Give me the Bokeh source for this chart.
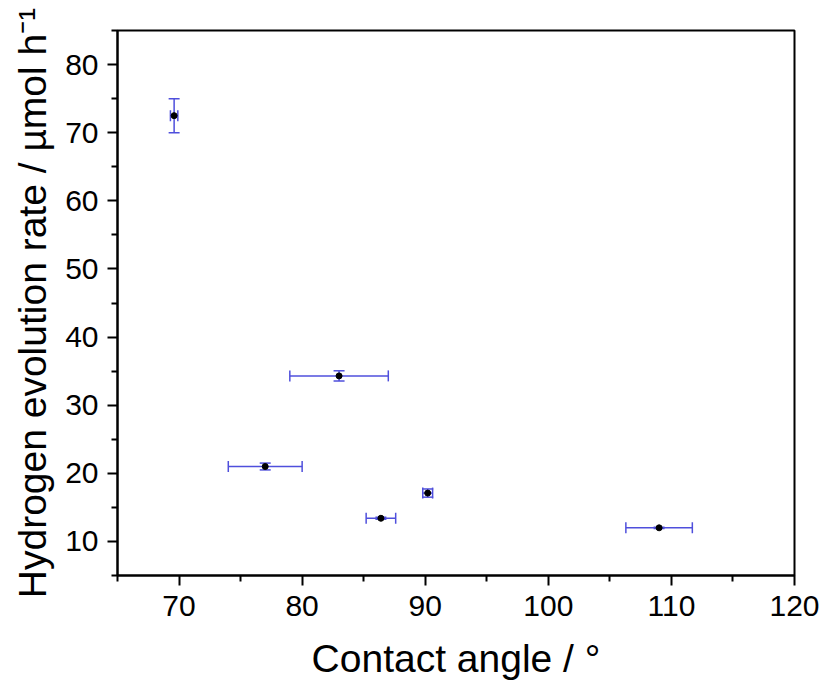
from bokeh.plotting import figure
from bokeh.models import ColumnDataSource, Whisker, TeeHead, FixedTicker, Range1d
from bokeh.embed import file_html
from bokeh.resources import INLINE

# Data
contact_angle = [69.6, 77.0, 83.0, 86.4, 90.2, 109.0]
contact_angle_err = [0.3, 3.0, 4.0, 1.2, 0.4, 2.7]
h2_rate = [72.5, 21.0, 34.3, 13.4, 17.1, 12.0]
h2_rate_err = [2.5, 0.5, 0.75, 0.15, 0.6, 0.1]

x_ticks = [70, 80, 90, 100, 110, 120]
x_minor = [65, 75, 85, 95, 105, 115]
y_ticks = [10, 20, 30, 40, 50, 60, 70, 80]
y_minor = [5, 15, 25, 35, 45, 55, 65, 75, 85]

src = ColumnDataSource(dict(
    x=contact_angle,
    y=h2_rate,
    x_lo=[a - e for a, e in zip(contact_angle, contact_angle_err)],
    x_hi=[a + e for a, e in zip(contact_angle, contact_angle_err)],
    y_lo=[a - e for a, e in zip(h2_rate, h2_rate_err)],
    y_hi=[a + e for a, e in zip(h2_rate, h2_rate_err)],
))

FONT = "Liberation Sans"
ERR = "#4f4fdc"

p = figure(width=822, height=684, output_backend="svg", toolbar_location=None,
           x_range=Range1d(65, 120), y_range=Range1d(5, 85),
           min_border_left=117, min_border_right=28, min_border_top=30, min_border_bottom=109)
p.xgrid.visible = False
p.ygrid.visible = False
p.outline_line_color = "black"
p.outline_line_width = 2
p.background_fill_color = "white"
p.border_fill_color = "white"

p.xaxis.ticker = FixedTicker(ticks=x_ticks, minor_ticks=x_minor)
p.yaxis.ticker = FixedTicker(ticks=y_ticks, minor_ticks=y_minor)

for ax in (p.xaxis, p.yaxis):
    ax.axis_line_width = 2
    ax.axis_line_color = "black"
    ax.major_tick_line_width = 2
    ax.minor_tick_line_width = 2
    ax.major_tick_out = 10
    ax.major_tick_in = 0
    ax.minor_tick_out = 6
    ax.minor_tick_in = 0
    ax.major_label_text_font = FONT
    ax.major_label_text_font_size = "30px"
    ax.major_label_text_color = "black"
    ax.axis_label_text_font = FONT
    ax.axis_label_text_font_size = "39px"
    ax.axis_label_text_font_style = "normal"
    ax.axis_label_text_color = "black"

p.xaxis.axis_label = "Contact angle / °"
p.yaxis.axis_label = "Hydrogen evolution rate / µmol h⁻¹"
p.xaxis.major_label_standoff = 10
p.xaxis.axis_label_standoff = 18
p.yaxis.major_label_standoff = 9
p.yaxis.axis_label_standoff = 8

# y error bars
p.add_layout(Whisker(source=src, base="x", lower="y_lo", upper="y_hi", dimension="height",
                     line_color=ERR, line_width=1.5,
                     upper_head=TeeHead(size=11, line_color=ERR, line_width=1.5),
                     lower_head=TeeHead(size=11, line_color=ERR, line_width=1.5)))
# x error bars
p.add_layout(Whisker(source=src, base="y", lower="x_lo", upper="x_hi", dimension="width",
                     line_color=ERR, line_width=1.5,
                     upper_head=TeeHead(size=11, line_color=ERR, line_width=1.5),
                     lower_head=TeeHead(size=11, line_color=ERR, line_width=1.5)))

p.scatter("x", "y", source=src, size=6, color="black")

open("out.html", "w").write(file_html(p, INLINE))
